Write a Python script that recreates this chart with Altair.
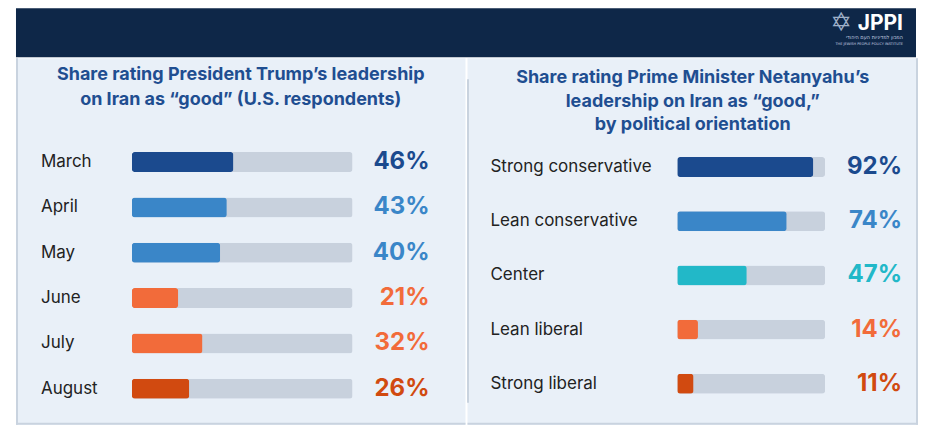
import altair as alt
import pandas as pd

months = ["March", "April", "May", "June", "July", "August"]
trump_pct = [46, 43, 40, 21, 32, 26]
month_colors = ["#1B4A8E", "#3A86C8", "#3A86C8", "#F26B3A", "#F26B3A", "#D14A10"]

groups = ["Strong conservative", "Lean conservative", "Center", "Lean liberal", "Strong liberal"]
bibi_pct = [92, 74, 47, 14, 11]
group_colors = ["#1B4A8E", "#3A86C8", "#22B8C8", "#F26B3A", "#D14A10"]

NAVY = "#0E2748"
PANEL = "#E9F0F8"
TRACK = "#C8D1DD"
BORDER = "#C9D3DF"
TITLE = "#1F4E91"
FONT = "Inter"

PANEL_H = 367


def panel(cats, vals, colors, width, x_range, y_range, label_x, pct_x, title_lines, title_y):
    df = pd.DataFrame({"cat": cats, "pct": vals})
    df["full"] = 100
    df["label"] = [f"{v}%" for v in vals]
    base = alt.Chart(df)
    y = alt.Y("cat:N", axis=None,
              scale=alt.Scale(type="point", domain=cats, range=y_range, padding=0))
    xs = alt.Scale(domain=[0, 100], range=x_range, nice=False)
    color = alt.Color("cat:N", scale=alt.Scale(domain=cats, range=colors), legend=None)

    track = base.mark_bar(height=20, cornerRadius=3, color=TRACK).encode(
        x=alt.X("full:Q", scale=xs, axis=None), y=y)
    bars = base.mark_bar(height=20, cornerRadius=3).encode(
        x=alt.X("pct:Q", scale=xs, axis=None), y=y, color=color)
    labels = base.mark_text(align="left", baseline="middle", font=FONT, fontSize=17,
                            color="#222222").encode(
        x=alt.value(label_x), y=y, text="cat:N")
    pcts = base.mark_text(align="right", baseline="middle", font=FONT, fontSize=24,
                          fontWeight="bold").encode(
        x=alt.value(pct_x), y=y, text="label:N", color=color)

    tdf = pd.DataFrame({"t": title_lines, "y": title_y})
    title = alt.Chart(tdf).mark_text(align="center", baseline="middle", font=FONT,
                                     fontSize=18, fontWeight="bold", color=TITLE).encode(
        x=alt.value(width / 2), y=alt.Y("y:Q", scale=None), text="t:N")
    return [track, bars, labels, pcts, title]


one = pd.DataFrame({"a": [0]})

left_layers = panel(months, trump_pct, month_colors, 450, [116, 337], [104, 331],
                    25, 414,
                    ["Share rating President Trump’s leadership",
                     "on Iran as “good” (U.S. respondents)"], [17, 42])
left_border = alt.Chart(one).mark_rule(color=BORDER, strokeWidth=2).encode(
    x=alt.value(1), y=alt.value(0), y2=alt.value(PANEL_H))
left_bottom = alt.Chart(one).mark_rule(color=BORDER, strokeWidth=2).encode(
    x=alt.value(0), x2=alt.value(450), y=alt.value(PANEL_H - 1))
left = alt.layer(*left_layers, left_border, left_bottom).properties(
    width=450, height=PANEL_H, view=alt.ViewBackground(fill=PANEL, strokeWidth=0)
)

right_layers = panel(groups, bibi_pct, group_colors, 451, [210, 358], [109, 326],
                     23, 435,
                     ["Share rating Prime Minister Netanyahu’s",
                      "leadership on Iran as “good,”",
                      "by political orientation"], [20, 44, 67])
divider = alt.Chart(one).mark_rule(color=BORDER, strokeWidth=2).encode(
    x=alt.value(0.5), y=alt.value(21), y2=alt.value(345))
right_border = alt.Chart(one).mark_rule(color=BORDER, strokeWidth=2).encode(
    x=alt.value(450), y=alt.value(0), y2=alt.value(PANEL_H))
right_bottom = alt.Chart(one).mark_rule(color=BORDER, strokeWidth=2).encode(
    x=alt.value(0), x2=alt.value(451), y=alt.value(PANEL_H - 1))
right = alt.layer(*right_layers, divider, right_border, right_bottom).properties(
    width=451, height=PANEL_H, view=alt.ViewBackground(fill=PANEL, strokeWidth=0)
)

# header band with JPPI logo text
star = alt.Chart(one).mark_text(text="✡", font="DejaVu Sans", fontSize=26,
                                color="#9FB0C8", align="center", baseline="middle").encode(
    x=alt.value(826), y=alt.value(15))
logo = alt.Chart(one).mark_text(text="JPPI", font=FONT, fontSize=21, fontWeight="bold",
                                color="white", align="right", baseline="middle").encode(
    x=alt.value(888), y=alt.value(16))
heb = alt.Chart(one).mark_text(text="המכון למדיניות העם היהודי", font="DejaVu Sans",
                               fontSize=5, color="#C8D3E2", align="right",
                               baseline="middle").encode(
    x=alt.value(888), y=alt.value(29))
eng = alt.Chart(one).mark_text(text="THE JEWISH PEOPLE POLICY INSTITUTE", font="DejaVu Sans",
                               fontSize=3.5, color="#C8D3E2", align="right",
                               baseline="middle").encode(
    x=alt.value(888), y=alt.value(36))
header = alt.layer(star, logo, heb, eng).properties(
    width=901, height=49, view=alt.ViewBackground(fill=NAVY, strokeWidth=0))

body = alt.hconcat(left, right, spacing=0).resolve_scale(
    x="independent", y="independent", color="independent")

chart = alt.vconcat(header, body, spacing=0).resolve_scale(
    x="independent", y="independent", color="independent"
).properties(
    padding={"left": 7, "top": 0, "right": 0, "bottom": 0},
    background="white",
).configure_view(strokeWidth=0)

chart.save("out.html", embed_options={"renderer": "svg", "actions": False})
